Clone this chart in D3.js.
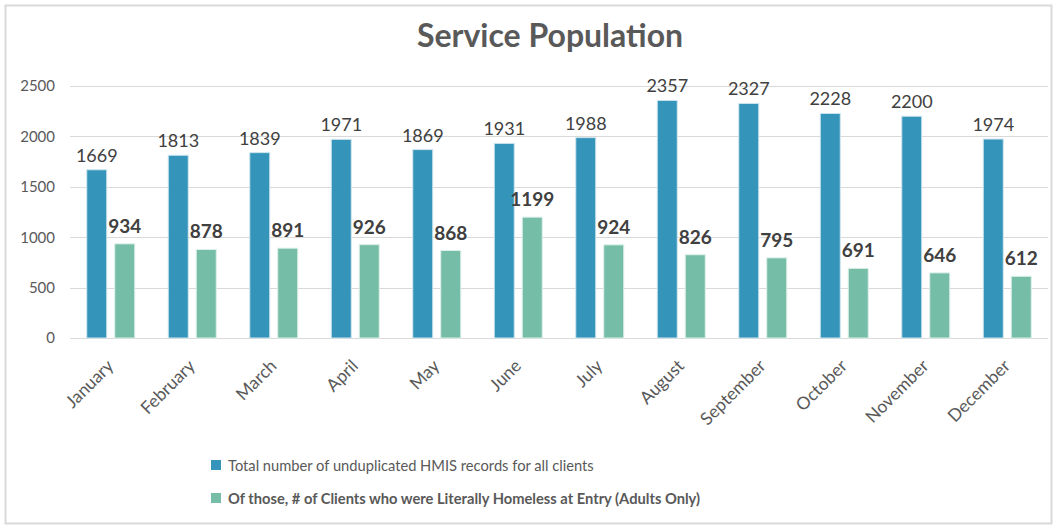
<!doctype html>
<html lang="en">
<head>
<meta charset="UTF-8">
<title>Service Population</title>
<style>
  body { margin: 0; background: #fff; }
  svg { font-family: Lato, "Open Sans", sans-serif; }
</style>
</head>
<body>
<script src="https://d3js.org/d3.v7.min.js"></script>
<script>
var months = ["January", "February", "March", "April", "May", "June", "July",
              "August", "September", "October", "November", "December"];
var totalRecords = [1669, 1813, 1839, 1971, 1869, 1931, 1988, 2357, 2327, 2228, 2200, 1974];
var literallyHomeless = [934, 878, 891, 926, 868, 1199, 924, 826, 795, 691, 646, 612];
var yTicks = [0, 500, 1000, 1500, 2000, 2500];
var seriesNames = ["Total number of unduplicated HMIS records for all clients",
                   "Of those, # of Clients who were Literally Homeless at Entry (Adults Only)"];
var colors = ["#3494BA", "#75BDA7"];

var width = 1057, height = 529;
var margin = {left: 70, right: 9, top: 86, bottom: 191};

var svg = d3.select("body").append("svg")
    .attr("width", width)
    .attr("height", height);

// outer chart border
svg.append("rect")
    .attr("x", 5.5).attr("y", 5.5)
    .attr("width", width - 11).attr("height", height - 11)
    .attr("fill", "#fff")
    .attr("stroke", "#d9d9d9")
    .attr("stroke-width", 2);

svg.append("text")
    .attr("x", 550).attr("y", 47)
    .attr("text-anchor", "middle")
    .attr("font-size", 32)
    .attr("font-weight", "bold")
    .attr("fill", "#595959")
    .text("Service Population");

var x = d3.scaleBand()
    .domain(months)
    .range([margin.left, width - margin.right]);

var y = d3.scaleLinear()
    .domain([0, 2500])
    .range([height - margin.bottom, margin.top]);

var barW = 20, barGap = 8;

// gridlines
svg.append("g")
    .selectAll("line")
    .data(yTicks)
    .join("line")
    .attr("x1", margin.left).attr("x2", width - margin.right)
    .attr("y1", d => Math.round(y(d)) + 0.5).attr("y2", d => Math.round(y(d)) + 0.5)
    .attr("stroke", "#d9d9d9")
    .attr("stroke-width", 1);

// y axis labels
var yAxis = svg.append("g")
    .attr("transform", "translate(" + (margin.left - 15) + ",0)")
    .call(d3.axisLeft(y).tickValues(yTicks).tickFormat(d3.format("d")).tickSize(0).tickPadding(0));
yAxis.select(".domain").remove();
yAxis.selectAll("text")
    .attr("font-family", "Lato, sans-serif")
    .attr("font-size", 15)
    .attr("fill", "#595959");

var groups = svg.append("g")
    .selectAll("g")
    .data(months)
    .join("g")
    .attr("transform", d => "translate(" + (x(d) + x.bandwidth() / 2) + ",0)");

// blue bars
groups.append("rect")
    .attr("x", -barW - barGap / 2)
    .attr("y", (d, i) => y(totalRecords[i]))
    .attr("width", barW)
    .attr("height", (d, i) => y(0) - y(totalRecords[i]))
    .attr("fill", colors[0])
    .attr("stroke", "#cfe6ef")
    .attr("stroke-width", 1);

groups.append("rect")
    .attr("x", barGap / 2)
    .attr("y", (d, i) => y(literallyHomeless[i]))
    .attr("width", barW)
    .attr("height", (d, i) => y(0) - y(literallyHomeless[i]))
    .attr("fill", colors[1])
    .attr("stroke", "#dcefe8")
    .attr("stroke-width", 1);

// value labels
groups.append("text")
    .attr("x", -barW / 2 - barGap / 2)
    .attr("y", (d, i) => y(totalRecords[i]) - 8)
    .attr("text-anchor", "middle")
    .attr("font-size", 18)
    .attr("fill", "#404040")
    .text((d, i) => totalRecords[i]);

groups.append("text")
    .attr("x", barW / 2 + barGap / 2)
    .attr("y", (d, i) => y(literallyHomeless[i]) - 11)
    .attr("text-anchor", "middle")
    .attr("font-size", 19)
    .attr("font-weight", "bold")
    .attr("fill", "#404040")
    .text((d, i) => literallyHomeless[i]);

// month labels
groups.append("text")
    .attr("transform", "translate(4,367) rotate(-45)")
    .attr("text-anchor", "end")
    .attr("font-size", 17.5)
    .attr("fill", "#595959")
    .text(d => d);

// legend
var legend = svg.append("g")
    .selectAll("g")
    .data(seriesNames)
    .join("g")
    .attr("transform", (d, i) => "translate(211," + (460 + i * 33) + ")");

legend.append("rect")
    .attr("width", 10).attr("height", 10)
    .attr("fill", (d, i) => colors[i]);

legend.append("text")
    .attr("x", 17).attr("y", 10.5)
    .attr("font-size", 14.7)
    .attr("font-weight", (d, i) => i === 1 ? "bold" : "normal")
    .attr("fill", "#595959")
    .text(d => d);
</script>
</body>
</html>
